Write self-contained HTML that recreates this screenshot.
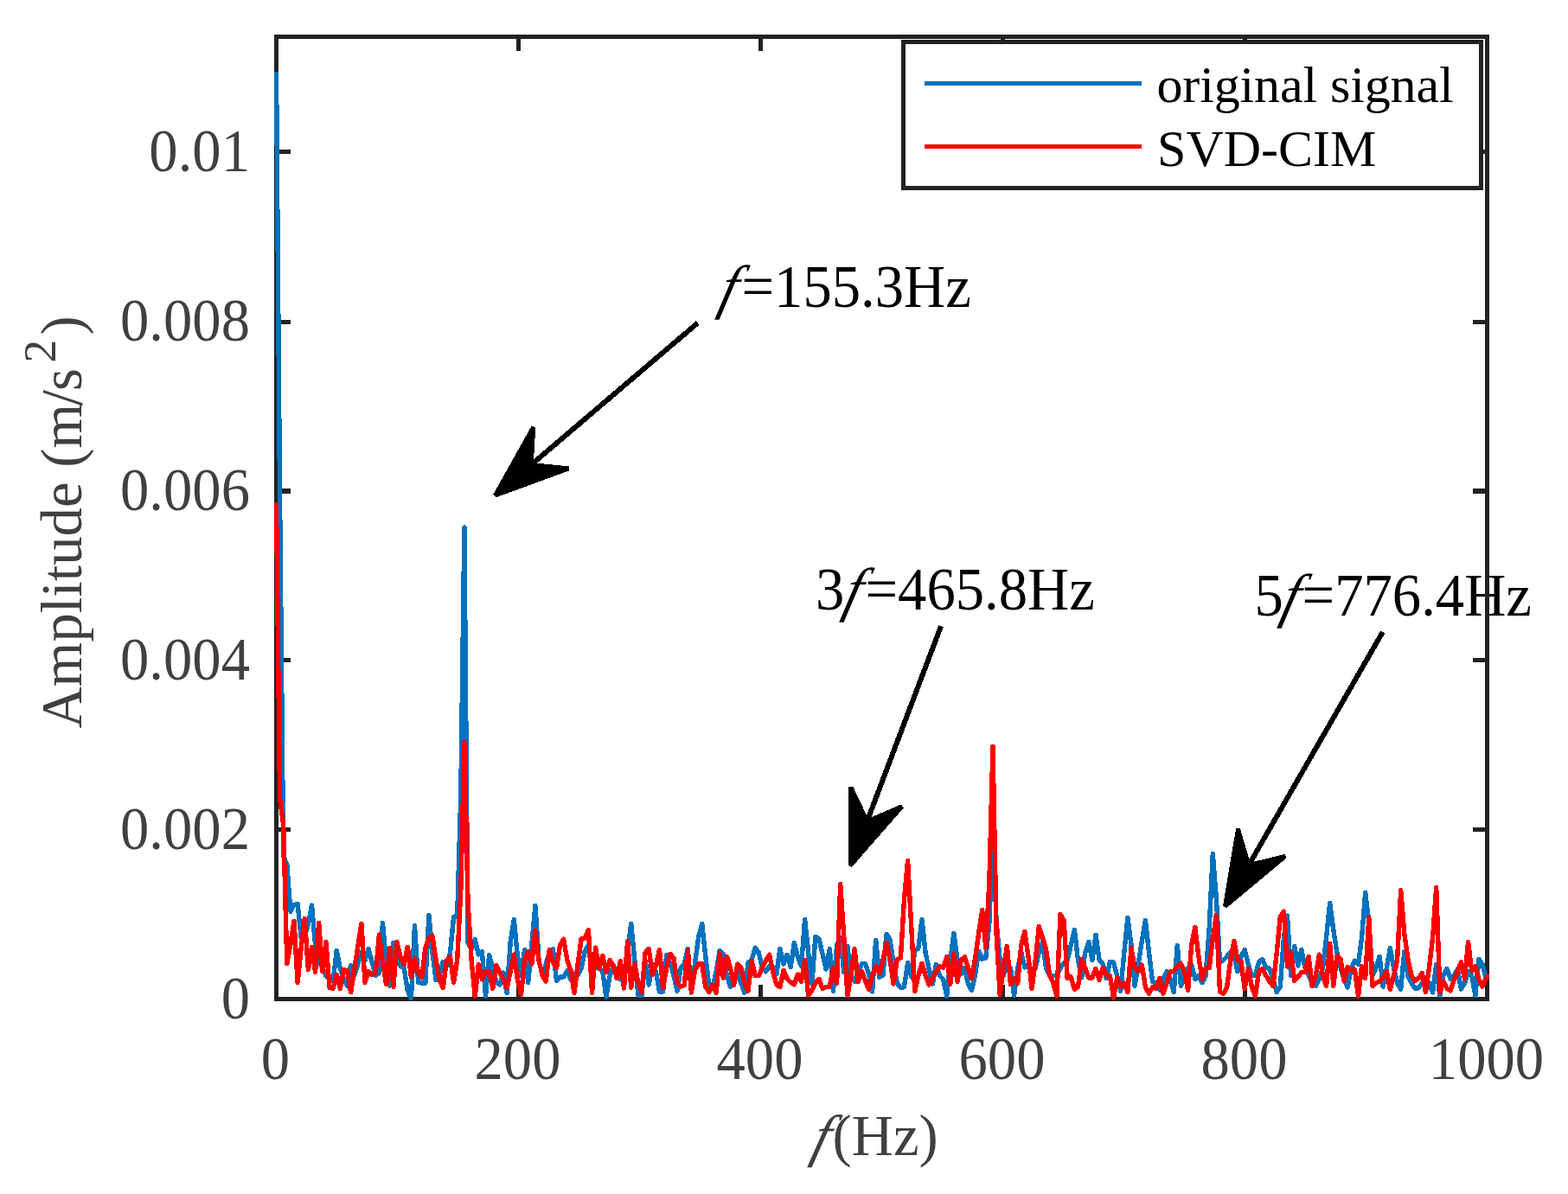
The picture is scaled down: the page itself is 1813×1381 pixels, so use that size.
<!DOCTYPE html>
<html lang="en"><head><meta charset="utf-8"><title>Amplitude spectrum: original signal vs SVD-CIM</title>
<style>
html,body{margin:0;padding:0;background:#fff;}
body{width:1813px;height:1381px;overflow:hidden;position:relative;}
svg{display:block;}
text{font-family:"Liberation Serif",serif;}
.tk{font-size:66.67px;fill:#404040;}
.an{font-size:66.67px;fill:#000;}
.lg{font-size:60px;fill:#000;}
.it{font-style:italic;}
.hl{position:absolute;white-space:nowrap;font-family:"Liberation Serif",serif;font-size:66.67px;line-height:80px;height:80px;transform-origin:0 62.5px;}
.hl i{display:inline-block;font-style:italic;transform:skewX(-15deg);transform-origin:0 62.5px;}
.hk{color:#404040;}
.ha{color:#000;}
</style></head><body>
<svg width="1813" height="1381" viewBox="0 0 1813 1381">
<rect x="0" y="0" width="1813" height="1381" fill="#fff"/>
<g stroke="#222222" stroke-width="5" fill="none" stroke-linecap="butt">
<rect x="319.5" y="42.5" width="1400.0" height="1113.0"/>
<line x1="599.5" y1="1155.5" x2="599.5" y2="1139.0"/>
<line x1="599.5" y1="42.5" x2="599.5" y2="59.0"/>
<line x1="879.5" y1="1155.5" x2="879.5" y2="1139.0"/>
<line x1="879.5" y1="42.5" x2="879.5" y2="59.0"/>
<line x1="1159.5" y1="1155.5" x2="1159.5" y2="1139.0"/>
<line x1="1159.5" y1="42.5" x2="1159.5" y2="59.0"/>
<line x1="1439.5" y1="1155.5" x2="1439.5" y2="1139.0"/>
<line x1="1439.5" y1="42.5" x2="1439.5" y2="59.0"/>
<line x1="319.5" y1="959.5" x2="336.0" y2="959.5" stroke-width="5"/>
<line x1="1719.5" y1="959.5" x2="1703.0" y2="959.5" stroke-width="5"/>
<line x1="319.5" y1="763.5" x2="336.0" y2="763.5" stroke-width="5"/>
<line x1="1719.5" y1="763.5" x2="1703.0" y2="763.5" stroke-width="5"/>
<line x1="319.5" y1="568.0" x2="336.0" y2="568.0" stroke-width="6"/>
<line x1="1719.5" y1="568.0" x2="1703.0" y2="568.0" stroke-width="6"/>
<line x1="319.5" y1="372.5" x2="336.0" y2="372.5" stroke-width="5"/>
<line x1="1719.5" y1="372.5" x2="1703.0" y2="372.5" stroke-width="5"/>
<line x1="319.5" y1="175.5" x2="336.0" y2="175.5" stroke-width="5"/>
<line x1="1719.5" y1="175.5" x2="1703.0" y2="175.5" stroke-width="5"/>
</g>
<g class="tk" text-anchor="middle">
<text transform="translate(318.5,1247.6) scale(1,1.035)">0</text>
<text transform="translate(598.5,1247.6) scale(1,1.035)">200</text>
<text transform="translate(878.5,1247.6) scale(1,1.035)">400</text>
<text transform="translate(1158.5,1247.6) scale(1,1.035)">600</text>
<text transform="translate(1438.5,1247.6) scale(1,1.035)">800</text>
<text transform="translate(1718.5,1247.6) scale(1,1.035)">1000</text>
</g>
<g class="tk" text-anchor="end">
<text transform="translate(289.0,1177.9) scale(1,1.035)">0</text>
<text transform="translate(289.0,981.9) scale(1,1.035)">0.002</text>
<text transform="translate(289.0,785.9) scale(1,1.035)">0.004</text>
<text transform="translate(289.0,590.4) scale(1,1.035)">0.006</text>
<text transform="translate(289.0,394.4) scale(1,1.035)">0.008</text>
<text transform="translate(289.0,197.9) scale(1,1.035)">0.01</text>
</g>
<text class="tk" transform="translate(94.4,842.6) rotate(-90)">Amplitude (m<tspan dx="-2.8">/</tspan><tspan dx="-1">s</tspan><tspan dx="6.6" dy="-30" font-size="53.3px">2</tspan><tspan dx="5.4" dy="30">)</tspan></text>
<clipPath id="cp"><rect x="317.0" y="40.0" width="1405.0" height="1118.0"/></clipPath>
<g clip-path="url(#cp)">
<polyline points="319.5,83.0 323.6,580.0 327.7,990.0 331.8,1000.0 335.9,1054.4 340.0,1046.6 344.1,1045.5 348.2,1084.4 352.3,1082.4 356.4,1069.1 360.5,1047.2 364.6,1093.0 368.7,1112.4 372.8,1119.4 376.9,1128.3 381.0,1132.7 385.1,1135.3 389.2,1099.3 393.3,1119.4 397.4,1132.7 401.5,1140.0 405.6,1116.5 409.7,1128.3 413.8,1115.0 417.9,1101.8 422.0,1110.6 426.1,1097.4 430.2,1113.2 434.3,1128.3 438.4,1125.4 442.5,1067.4 446.6,1114.1 450.8,1140.2 454.9,1090.5 459.0,1101.8 463.1,1117.7 467.2,1119.4 471.3,1145.9 475.4,1154.7 479.5,1070.6 483.6,1136.2 487.7,1137.1 491.8,1137.1 495.9,1058.4 500.0,1101.8 504.1,1133.5 508.2,1128.3 512.3,1112.5 516.4,1117.7 520.5,1101.8 524.6,1060.5 528.7,1059.4 532.8,920.0 536.9,610.0 541.0,1090.0 545.1,1098.2 549.2,1086.5 553.3,1104.0 557.4,1100.6 561.5,1152.3 565.6,1104.6 569.7,1119.4 573.8,1135.3 577.9,1139.1 582.0,1124.9 586.1,1148.8 590.2,1089.4 594.3,1063.6 598.4,1106.2 602.5,1128.3 606.6,1098.4 610.7,1136.5 614.8,1093.0 618.9,1047.5 623.0,1110.6 627.1,1128.3 631.2,1115.0 635.3,1101.8 639.4,1097.5 643.5,1134.3 647.6,1130.0 651.7,1130.0 655.8,1123.0 659.9,1132.7 664.0,1126.9 668.1,1127.4 672.2,1119.4 676.3,1100.0 680.4,1093.0 684.5,1119.4 688.6,1119.4 692.7,1119.4 696.8,1123.8 700.9,1153.2 705.1,1128.3 709.2,1116.8 713.3,1128.3 717.4,1132.7 721.5,1128.3 725.6,1101.8 729.7,1068.4 733.8,1110.6 737.9,1151.0 742.0,1151.0 746.1,1110.6 750.2,1139.1 754.3,1115.0 758.4,1123.8 762.5,1147.0 766.6,1147.0 770.7,1104.6 774.8,1113.2 778.9,1128.3 783.0,1146.2 787.1,1119.4 791.2,1115.0 795.3,1097.4 799.4,1148.1 803.5,1115.0 807.6,1084.1 811.7,1068.4 815.8,1106.2 819.9,1141.5 824.0,1141.5 828.1,1123.8 832.2,1099.3 836.3,1103.5 840.4,1128.3 844.5,1141.3 848.6,1137.1 852.7,1123.8 856.8,1137.1 860.9,1148.4 865.0,1113.4 869.1,1110.6 873.2,1096.2 877.3,1101.8 881.4,1119.4 885.5,1123.7 889.6,1117.7 893.7,1119.4 897.8,1126.8 901.9,1097.4 906.0,1115.0 910.1,1104.2 914.2,1118.4 918.3,1090.5 922.4,1106.2 926.5,1117.7 930.6,1063.3 934.7,1101.8 938.8,1138.2 942.9,1083.4 947.0,1085.9 951.1,1103.5 955.2,1121.2 959.3,1097.5 963.5,1146.2 967.6,1093.0 971.7,1084.1 975.8,1124.7 979.9,1094.5 984.0,1128.3 988.1,1135.3 992.2,1123.8 996.3,1115.0 1000.4,1114.6 1004.5,1126.5 1008.6,1147.0 1012.7,1087.4 1016.8,1130.3 1020.9,1128.3 1025.0,1080.3 1029.1,1086.8 1033.2,1115.0 1037.3,1137.1 1041.4,1142.6 1045.5,1141.5 1049.6,1113.4 1053.7,1130.0 1057.8,1100.0 1061.9,1096.5 1066.0,1063.3 1070.1,1101.8 1074.2,1121.2 1078.3,1138.2 1082.4,1115.4 1086.5,1128.3 1090.6,1132.7 1094.7,1152.3 1098.8,1110.6 1102.9,1079.4 1107.0,1110.6 1111.1,1126.5 1115.2,1119.4 1119.3,1137.1 1123.4,1145.3 1127.5,1128.3 1131.6,1100.0 1135.7,1109.1 1139.8,1108.0 1143.9,1066.5 1148.0,960.0 1152.1,1066.5 1156.2,1110.6 1160.3,1128.3 1164.4,1115.0 1168.5,1119.4 1172.6,1151.5 1176.7,1119.4 1180.8,1101.8 1184.9,1118.8 1189.0,1117.7 1193.1,1128.3 1197.2,1119.4 1201.3,1101.8 1205.4,1089.4 1209.5,1119.4 1213.6,1128.3 1217.8,1128.3 1221.9,1128.3 1226.0,1119.4 1230.1,1114.1 1234.2,1110.6 1238.3,1093.0 1242.4,1075.5 1246.5,1110.6 1250.6,1130.9 1254.7,1101.8 1258.8,1089.4 1262.9,1110.6 1267.0,1081.2 1271.1,1110.6 1275.2,1115.0 1279.3,1131.6 1283.4,1112.5 1287.5,1113.2 1291.6,1128.3 1295.7,1146.2 1299.8,1101.8 1303.9,1061.4 1308.0,1093.0 1312.1,1140.4 1316.2,1115.0 1320.3,1088.5 1324.4,1064.3 1328.5,1101.8 1332.6,1135.3 1336.7,1137.1 1340.8,1145.0 1344.9,1132.7 1349.0,1123.6 1353.1,1132.7 1357.2,1147.5 1361.3,1093.4 1365.4,1140.4 1369.5,1128.3 1373.6,1119.4 1377.7,1115.6 1381.8,1132.5 1385.9,1128.3 1390.0,1136.5 1394.1,1128.3 1398.2,1073.5 1402.3,987.5 1406.4,1040.0 1410.5,1113.2 1414.6,1110.6 1418.7,1106.2 1422.8,1101.8 1426.9,1106.2 1431.0,1123.8 1435.1,1106.2 1439.2,1098.4 1443.3,1115.0 1447.4,1128.3 1451.5,1128.3 1455.6,1112.4 1459.7,1109.5 1463.8,1119.4 1467.9,1120.3 1472.0,1132.7 1476.2,1147.5 1480.3,1141.5 1484.4,1084.1 1488.5,1059.2 1492.6,1128.3 1496.7,1094.5 1500.8,1117.0 1504.9,1098.4 1509.0,1119.4 1513.1,1128.3 1517.2,1137.1 1521.3,1140.4 1525.4,1132.7 1529.5,1119.4 1533.6,1084.1 1537.7,1044.3 1541.8,1075.3 1545.9,1101.8 1550.0,1119.4 1554.1,1132.7 1558.2,1142.2 1562.3,1119.4 1566.4,1111.2 1570.5,1115.0 1574.6,1084.1 1578.7,1032.5 1582.8,1066.5 1586.9,1128.3 1591.0,1119.4 1595.1,1106.2 1599.2,1141.3 1603.3,1119.4 1607.4,1096.4 1611.5,1119.4 1615.6,1137.1 1619.7,1144.0 1623.8,1100.6 1627.9,1128.3 1632.0,1137.1 1636.1,1143.1 1640.2,1142.8 1644.3,1137.1 1648.4,1132.7 1652.5,1137.1 1656.6,1147.9 1660.7,1115.6 1664.8,1151.5 1668.9,1128.3 1673.0,1120.5 1677.1,1132.7 1681.2,1128.3 1685.3,1121.2 1689.4,1144.0 1693.5,1137.1 1697.6,1123.8 1701.7,1128.3 1705.8,1151.5 1709.9,1109.5 1714.0,1115.0 1718.1,1130.9 1722.2,1128.3" fill="none" stroke="#0072BD" stroke-width="5.4" stroke-linejoin="round" stroke-linecap="butt" shape-rendering="crispEdges"/>
<polyline points="319.5,581.0 323.6,923.7 327.7,954.0 331.8,1114.4 335.9,1092.1 340.0,1065.3 344.1,1136.5 348.2,1096.5 352.3,1062.5 356.4,1121.5 360.5,1095.3 364.6,1124.5 368.7,1067.4 372.8,1123.7 376.9,1089.4 381.0,1142.4 385.1,1143.3 389.2,1127.5 393.3,1143.3 397.4,1121.6 401.5,1122.5 405.6,1147.7 409.7,1121.2 413.8,1094.7 417.9,1068.2 422.0,1136.5 426.1,1123.4 430.2,1127.6 434.3,1125.2 438.4,1081.2 442.5,1113.2 446.6,1138.7 450.8,1096.2 454.9,1141.5 459.0,1089.4 463.1,1107.1 467.2,1115.3 471.3,1095.3 475.4,1130.0 479.5,1108.6 483.6,1124.7 487.7,1130.7 491.8,1096.5 495.9,1085.0 500.0,1082.5 504.1,1110.6 508.2,1132.7 512.3,1142.6 516.4,1110.6 520.5,1106.8 524.6,1136.5 528.7,1110.6 532.8,1030.0 536.9,858.2 541.0,1042.0 545.1,1110.6 549.2,1152.3 553.3,1115.2 557.4,1132.5 561.5,1123.4 565.6,1123.4 569.7,1143.1 573.8,1116.5 577.9,1124.7 582.0,1133.5 586.1,1142.6 590.2,1123.8 594.3,1104.2 598.4,1132.7 602.5,1150.6 606.6,1110.6 610.7,1100.6 614.8,1115.0 618.9,1076.4 623.0,1110.6 627.1,1128.3 631.2,1135.1 635.3,1098.4 639.4,1113.2 643.5,1119.7 647.6,1093.0 651.7,1086.2 655.8,1110.6 659.9,1122.1 664.0,1148.4 668.1,1115.0 672.2,1085.6 676.3,1085.0 680.4,1075.5 684.5,1148.4 688.6,1096.2 692.7,1120.6 696.8,1105.5 700.9,1124.5 705.1,1110.3 709.2,1116.8 713.3,1131.6 717.4,1111.7 721.5,1143.1 725.6,1088.3 729.7,1142.2 733.8,1114.3 737.9,1137.1 742.0,1147.5 746.1,1101.8 750.2,1097.5 754.3,1127.6 758.4,1116.8 762.5,1098.4 766.6,1142.6 770.7,1119.4 774.8,1103.3 778.9,1108.0 783.0,1137.1 787.1,1140.9 791.2,1139.7 795.3,1098.9 799.4,1147.5 803.5,1122.1 807.6,1115.0 811.7,1114.3 815.8,1141.5 819.9,1147.5 824.0,1139.5 828.1,1148.4 832.2,1102.4 836.3,1131.2 840.4,1106.4 844.5,1119.4 848.6,1139.5 852.7,1115.2 856.8,1119.4 860.9,1137.1 865.0,1146.2 869.1,1111.2 873.2,1128.5 877.3,1128.3 881.4,1119.4 885.5,1110.6 889.6,1104.2 893.7,1123.8 897.8,1138.8 901.9,1141.5 906.0,1122.3 910.1,1131.8 914.2,1136.2 918.3,1138.7 922.4,1127.1 926.5,1135.1 930.6,1110.3 934.7,1151.5 938.8,1145.9 942.9,1137.1 947.0,1132.4 951.1,1143.5 955.2,1141.5 959.3,1141.5 963.5,1119.2 967.6,1137.1 971.7,1022.5 975.8,1084.1 979.9,1151.5 984.0,1128.3 988.1,1097.5 992.2,1135.6 996.3,1123.6 1000.4,1134.4 1004.5,1144.4 1008.6,1128.3 1012.7,1117.4 1016.8,1126.0 1020.9,1110.6 1025.0,1090.5 1029.1,1110.6 1033.2,1138.2 1037.3,1109.7 1041.4,1108.0 1045.5,1040.0 1049.6,995.4 1053.7,1070.9 1057.8,1146.6 1061.9,1128.3 1066.0,1114.3 1070.1,1128.3 1074.2,1139.1 1078.3,1130.9 1082.4,1123.8 1086.5,1117.7 1090.6,1119.4 1094.7,1106.4 1098.8,1138.2 1102.9,1103.3 1107.0,1135.6 1111.1,1110.6 1115.2,1106.8 1119.3,1119.4 1123.4,1131.6 1127.5,1108.8 1131.6,1079.7 1135.7,1052.5 1139.8,1096.3 1143.9,1018.8 1148.0,863.2 1152.1,1079.7 1156.2,1150.6 1160.3,1119.4 1164.4,1094.5 1168.5,1138.7 1172.6,1131.8 1176.7,1137.1 1180.8,1093.0 1184.9,1077.4 1189.0,1106.2 1193.1,1143.5 1197.2,1110.6 1201.3,1071.5 1205.4,1084.1 1209.5,1097.4 1213.6,1128.3 1217.8,1137.1 1221.9,1152.3 1226.0,1057.6 1230.1,1064.7 1234.2,1131.8 1238.3,1130.0 1242.4,1144.4 1246.5,1141.5 1250.6,1109.5 1254.7,1119.4 1258.8,1130.9 1262.9,1130.9 1267.0,1120.5 1271.1,1133.4 1275.2,1119.4 1279.3,1128.3 1283.4,1128.3 1287.5,1154.1 1291.6,1130.6 1295.7,1141.5 1299.8,1136.8 1303.9,1147.5 1308.0,1096.5 1312.1,1119.4 1316.2,1123.2 1320.3,1116.1 1324.4,1141.5 1328.5,1149.3 1332.6,1141.5 1336.7,1143.3 1340.8,1131.5 1344.9,1149.3 1349.0,1137.1 1353.1,1123.8 1357.2,1123.0 1361.3,1117.7 1365.4,1114.3 1369.5,1123.8 1373.6,1145.3 1377.7,1093.0 1381.8,1072.4 1385.9,1106.2 1390.0,1132.5 1394.1,1119.4 1398.2,1119.4 1402.3,1085.9 1406.4,1058.3 1410.5,1146.8 1414.6,1149.4 1418.7,1141.5 1422.8,1110.6 1426.9,1088.3 1431.0,1110.6 1435.1,1112.4 1439.2,1143.5 1443.3,1120.5 1447.4,1141.5 1451.5,1152.3 1455.6,1123.8 1459.7,1120.5 1463.8,1128.3 1467.9,1135.3 1472.0,1140.4 1476.2,1101.8 1480.3,1060.3 1484.4,1054.3 1488.5,1117.9 1492.6,1101.5 1496.7,1134.3 1500.8,1130.0 1504.9,1124.7 1509.0,1124.7 1513.1,1106.4 1517.2,1140.4 1521.3,1128.3 1525.4,1104.2 1529.5,1128.3 1533.6,1140.4 1537.7,1091.4 1541.8,1140.4 1545.9,1105.5 1550.0,1108.8 1554.1,1134.7 1558.2,1118.3 1562.3,1122.1 1566.4,1121.2 1570.5,1152.3 1574.6,1117.4 1578.7,1131.2 1582.8,1061.4 1586.9,1140.4 1591.0,1137.1 1595.1,1135.3 1599.2,1130.0 1603.3,1123.6 1607.4,1144.4 1611.5,1128.3 1615.6,1110.6 1619.7,1029.6 1623.8,1079.7 1627.9,1108.8 1632.0,1128.3 1636.1,1134.4 1640.2,1131.8 1644.3,1125.3 1648.4,1147.5 1652.5,1119.4 1656.6,1084.1 1660.7,1026.5 1664.8,1147.5 1668.9,1135.3 1673.0,1143.3 1677.1,1145.9 1681.2,1133.5 1685.3,1123.8 1689.4,1112.5 1693.5,1131.8 1697.6,1089.6 1701.7,1123.0 1705.8,1117.8 1709.9,1132.7 1714.0,1141.3 1718.1,1131.8 1722.2,1127.4" fill="none" stroke="#FF0000" stroke-width="5.4" stroke-linejoin="round" stroke-linecap="butt" shape-rendering="crispEdges"/>
</g>
<line x1="806.6" y1="373.6" x2="615.2" y2="536.7" stroke="#000" stroke-width="6" shape-rendering="crispEdges"/><polygon points="572.5,573.0 657.7,541.9 614.2,537.5 616.8,493.9" fill="#000" stroke="#000" stroke-width="5" stroke-linejoin="bevel" shape-rendering="crispEdges"/>
<line x1="1088.0" y1="724.3" x2="1003.0" y2="948.8" stroke="#000" stroke-width="6" shape-rendering="crispEdges"/><polygon points="983.2,1001.1 1042.8,932.8 1002.6,949.9 983.8,910.5" fill="#000" stroke="#000" stroke-width="5" stroke-linejoin="bevel" shape-rendering="crispEdges"/>
<line x1="1598.8" y1="730.9" x2="1444.4" y2="999.7" stroke="#000" stroke-width="6" shape-rendering="crispEdges"/><polygon points="1416.5,1048.3 1486.1,990.3 1443.8,1000.7 1431.5,958.9" fill="#000" stroke="#000" stroke-width="5" stroke-linejoin="bevel" shape-rendering="crispEdges"/>
<rect x="1044.5" y="48.5" width="668" height="169" fill="#fff" stroke="#222222" stroke-width="5"/>
<line x1="1069" y1="96.5" x2="1320" y2="96.5" stroke="#0072BD" stroke-width="5"/>
<line x1="1069" y1="169.5" x2="1320" y2="169.5" stroke="#FF0000" stroke-width="5"/>
<text class="lg" x="1337.4" y="118.3" letter-spacing="-0.12">original signal</text>
<text class="lg" x="1338.1" y="192.3">SVD-CIM</text>
</svg>
<div class="hl hk" style="left:936.00px;top:1274.20px;transform:scaleY(1.0);"><i style="margin-left:0.00px">f</i><span style="margin-left:8.08px">(Hz)</span></div>
<div class="hl ha" style="left:829.00px;top:292.80px;transform:scaleY(1.04);"><i style="margin-left:0.00px">f</i><span style="margin-left:9.98px">=155.3Hz</span></div>
<div class="hl ha" style="left:943.10px;top:642.80px;transform:scaleY(1.04);"><span>3</span><i style="margin-left:-3.64px">f</i><span style="margin-left:9.18px">=465.8Hz</span></div>
<div class="hl ha" style="left:1450.40px;top:650.20px;transform:scaleY(1.04);"><span>5</span><i style="margin-left:-4.84px">f</i><span style="margin-left:8.18px">=776.4Hz</span></div>
<div style="position:absolute;left:1717px;top:640px;width:5px;height:100px;background:#222222"></div>
</body></html>
